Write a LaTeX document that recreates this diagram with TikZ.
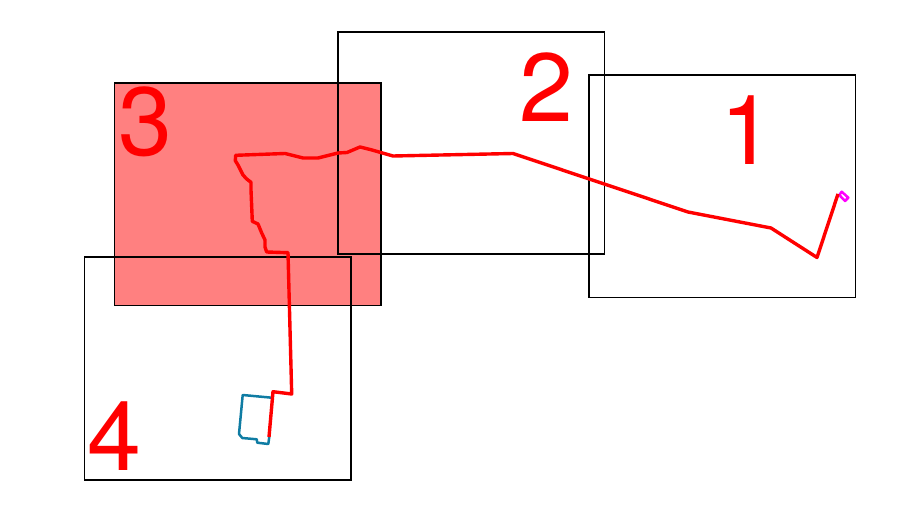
\documentclass[tikz,border=0pt]{standalone}
\usepackage{fontspec}
\setmainfont{TeX Gyre Heros}
\usepackage{tikz}
\definecolor{route_blue}{HTML}{0F7CA3}
\definecolor{route_magenta}{HTML}{FF00FF}
\definecolor{area_red}{HTML}{FF8080}
\tikzstyle{map_frame} = [
    rectangle,
    draw=black,
    line width=1.9pt,
    inner sep=0pt,
    outer sep=0pt,
    minimum width=266.5pt,
    minimum height=222.5pt
]
\tikzstyle{big_label} = [
    red,
    inner sep=0pt,
    font=\fontsize{97}{97}\selectfont
]
\tikzstyle{route} = [
    line width=3.4pt,
    line join=round,
    red
]
\begin{document}
\begin{tikzpicture}[x=1pt, y=-1pt]
\useasboundingbox (0,0) rectangle (901,510);
\node [map_frame, fill=area_red] (frame_3) at (247.7,194.2) {};
\node [map_frame] (frame_1) at (722.2,186.2) {};
\node [map_frame] (frame_2) at (471.2,143.2) {};
\node [map_frame] (frame_4) at (217.7,368.7) {};
\node [big_label] (label_1) at (747,130) {1};
\node [big_label] (label_2) at (546,87.5) {2};
\node [big_label] (label_3) at (145,121.5) {3};
\node [big_label] (label_4) at (114,436.5) {4};
% blue and magenta loops under the red line
\draw [route_blue, line width=2.5pt, line join=round]
    (271.7,397.7) -- (242.7,395) -- (239,434) -- (242.3,438) -- (256.7,439.3)
    -- (257.3,442.7) -- (268.3,444) -- (269.3,436.7);
\draw [route_magenta, line width=2.5pt, line join=round]
    (841.7,191.7) -- (848.3,197.7) -- (845,201) -- (839.3,195) -- cycle;
\draw [route]
    (269,437) -- (273,391.7) -- (291.7,394) -- (288,252.7) -- (266.7,252)
    -- (265,247) -- (265,240) -- (261.7,233) -- (258,224) -- (252.3,221.3)
    -- (251,190) -- (251,182.3) -- (246.7,179) -- (243,175) -- (238,165)
    -- (235.3,160.7) -- (235.7,155.3) -- (285,153.5) -- (303,158) -- (318,158)
    -- (338,153) -- (347,152.5) -- (360,147) -- (372,150) -- (393,156)
    -- (513,153.5) -- (688,212) -- (771,228) -- (817,257.5) -- (838,194);
\end{tikzpicture}
\end{document}
